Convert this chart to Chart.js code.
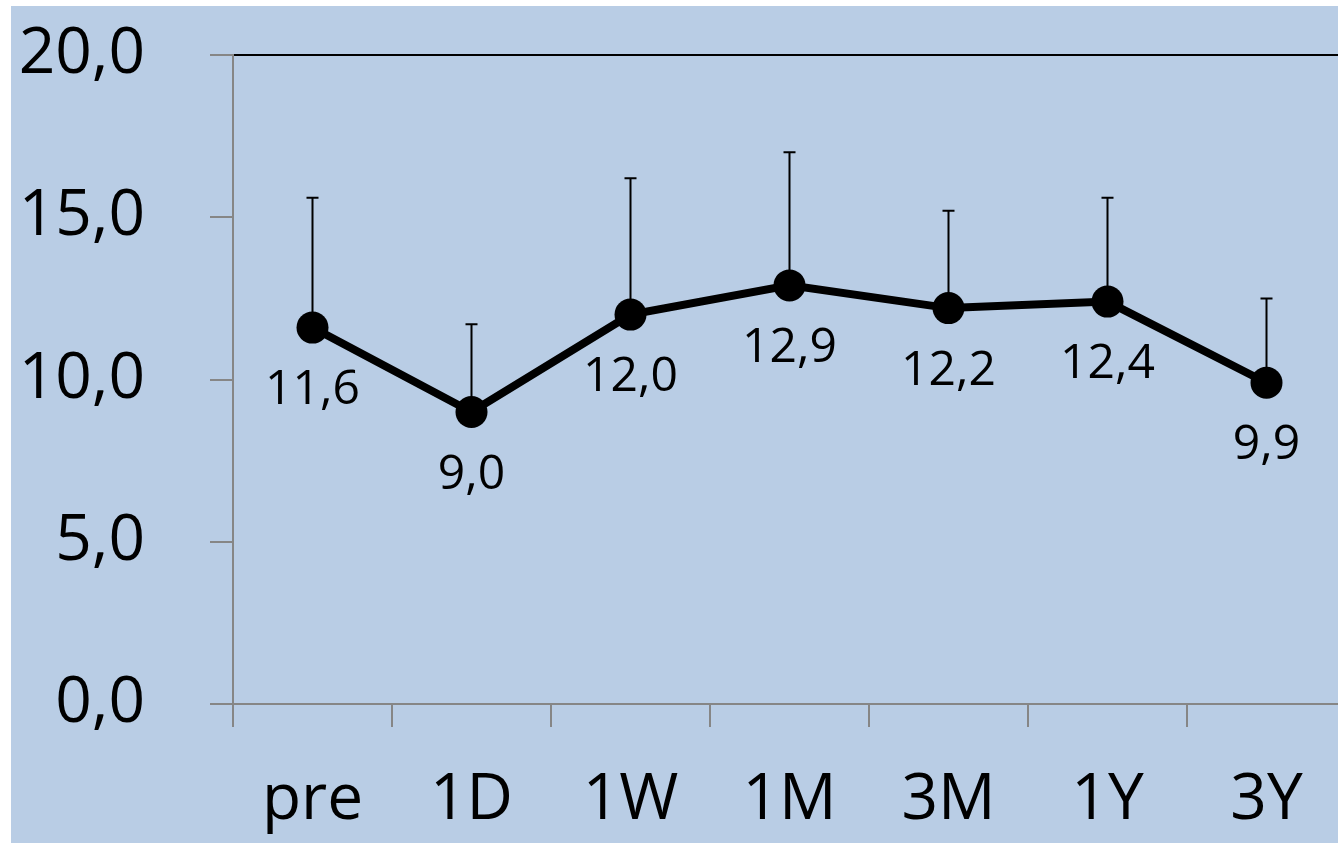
<!DOCTYPE html>
<html>
<head>
<meta charset="utf-8">
<script src="https://cdn.jsdelivr.net/npm/chart.js@4/dist/chart.umd.min.js"></script>
<style>
  html, body { margin: 0; padding: 0; background: #ffffff; overflow: hidden; }
  .frame {
    position: absolute; left: 11px; top: 6px;
    width: 1327px; height: 837px;
    background: #b9cde5; overflow: hidden;
  }
</style>
</head>
<body>
<div class="frame">
  <canvas id="myChart" width="1335" height="837"></canvas>
</div>
<script>
// chart data
const categories = ["pre", "1D", "1W", "1M", "3M", "1Y", "3Y"];
const means = [11.6, 9.0, 12.0, 12.9, 12.2, 12.4, 9.9];
const sdUpper = [4.0, 2.7, 4.2, 4.1, 3.0, 3.2, 2.6];
const yTicks = [0, 5, 10, 15, 20];

const FONT = "'Open Sans', sans-serif";
const AXIS_GRAY = "#868686";

//error bars (upper only) drawn under the points
const errorBars = {
  id: "errorBars",
  beforeDatasetsDraw(chart) {
    const ctx = chart.ctx;
    const meta = chart.getDatasetMeta(0);
    const yScale = chart.scales.y;
    ctx.save();
    ctx.strokeStyle = "#000";
    ctx.lineWidth = 2;
    meta.data.forEach((pt, i) => {
      const yTop = yScale.getPixelForValue(means[i] + sdUpper[i]);
      ctx.beginPath();
      ctx.moveTo(pt.x, pt.y);
      ctx.lineTo(pt.x, yTop);
      ctx.moveTo(pt.x - 6, yTop);
      ctx.lineTo(pt.x + 6, yTop);
      ctx.stroke();
    });
    ctx.restore();
  },
};

//value labels under each point
const valueLabels = {
  id: "valueLabels",
  afterDatasetsDraw(chart) {
    const ctx = chart.ctx;
    const meta = chart.getDatasetMeta(0);
    ctx.save();
    ctx.fillStyle = "#000";
    ctx.font = `48px ${FONT}`;
    ctx.textAlign = "center";
    ctx.textBaseline = "middle";
    meta.data.forEach((pt, i) => {
      ctx.fillText(means[i].toFixed(1).replace(".", ","), pt.x, pt.y + 63);
    });
    ctx.restore();
  },
};

const data = {
  labels: categories,
  datasets: [
    {
      data: means,
      borderColor: "#000",
      backgroundColor: "#000",
      borderWidth: 8,
      pointRadius: 16,
      pointBackgroundColor: "#000",
      pointBorderWidth: 0,
      tension: 0,
    },
  ],
};

const config = {
  type: "line",
  data: data,
  plugins: [errorBars, valueLabels],
  options: {
    responsive: false,
    animation: false,
    layout: { autoPadding: false, padding: { top: 49, left: 0, right: 0, bottom: 0 } },
    plugins: { legend: { display: false }, tooltip: { enabled: false } },
    scales: {
      x: {
        offset: true,
        grid: {
          offset: true,
          color: "transparent",
          tickColor: AXIS_GRAY,
          tickLength: 23,
          lineWidth: 2,
        },
        border: { color: AXIS_GRAY, width: 2 },
        ticks: {
          color: "#000",
          font: { family: FONT, size: 64 },
          padding: 35,
          maxRotation: 0,
        },
        afterFit(scale) {
          scale.height = 139;
          scale.paddingLeft = 0;
          scale.paddingRight = 0;
        },
      },
      y: {
        min: 0,
        max: 20,
        afterBuildTicks(scale) {
          scale.ticks = yTicks.map((v) => ({ value: v }));
        },
        grid: {
          color: (c) => (c.tick && c.tick.value === 20 ? "#000" : "transparent"),
          tickColor: AXIS_GRAY,
          tickLength: 23,
          lineWidth: 2,
        },
        border: { color: AXIS_GRAY, width: 2 },
        ticks: {
          color: "#000",
          font: { family: FONT, size: 64 },
          padding: 65,
          callback: (v) => Number(v).toFixed(1).replace(".", ","),
        },
        afterFit(scale) {
          scale.width = 222;
          scale.paddingTop = 0;
          scale.paddingBottom = 0;
        },
      },
    },
  },
};

const myChart = new Chart(document.getElementById("myChart"), config);
</script>
</body>
</html>
